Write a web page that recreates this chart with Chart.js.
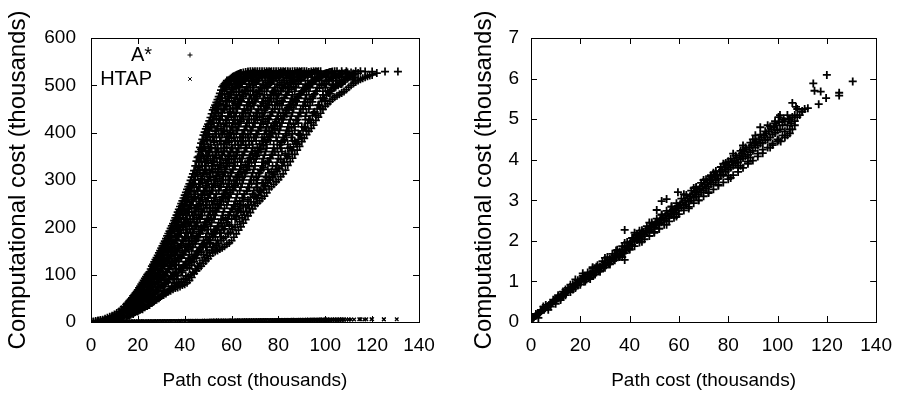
<!DOCTYPE html>
<html>
<head>
<meta charset="utf-8">
<script src="https://cdn.jsdelivr.net/npm/chart.js@4.4.1/dist/chart.umd.min.js"></script>
<style>
  body { margin: 0; background: #fff; }
  .painel { position: absolute; top: 0; width: 452px; height: 396px; }
  #esq { left: 0; }
  #dir { left: 452px; }
</style>
</head>
<body>
<div class="painel" id="esq"><canvas id="graficoEsq" width="452" height="396"></canvas></div>
<div class="painel" id="dir"><canvas id="graficoDir" width="452" height="396"></canvas></div>
<script>
// valores, em milhares
// A*: cada coluna = [path cost, [computational costs]]

const astarColunas = [
  [1,[0,1]],[2,[0,2]],[3,[1,2,3]],[4,[0,2,4]],[5,[1,3,5]],[6,[1,4,7]],[7,[2,5,9]],[8,[2,7,11]],[9,[3,6,10,13]],
  [10,[4,9,12,16]],[11,[4,8,13,19]],[12,[6,11,17,22]],[13,[7,15,21,27]],[14,[9,14,24,32]],[15,[11,19,27,31,37]],
  [16,[13,18,29,35,42]],[17,[16,25,33,44,48]],[18,[17,29,38,47,55]],[19,[21,28,44,53,61]],[20,[22,36,47,58,68]],
  [21,[26,34,52,63,70,76]],[22,[27,45,56,68,79,84]],[23,[31,44,58,74,87,92]],[24,[34,52,63,80,91,100]],[25,[36,50,71,86,97,106]],
  [26,[40,59,73,93,108,118]],[27,[44,57,82,99,112,122,127]],[28,[47,66,85,96,118,129,136]],[29,[50,64,90,110,124,139,146]],
  [30,[55,78,93,117,133,150,156]],[31,[57,75,101,122,140,154,166]],[32,[60,88,105,129,150,163,176]],[33,[64,84,113,131,156,171,187]],
  [34,[66,97,118,141,160,182,198]],[35,[69,92,125,149,170,195,208]],[36,[72,104,129,155,179,201,214,220]],[37,[73,99,136,162,185,205,225,232]],
  [38,[75,112,140,158,193,218,236,244]],[39,[78,108,147,172,200,228,246,256]],[40,[80,121,152,180,207,236,255,268]],
  [41,[83,116,158,189,213,247,266,280]],[42,[88,130,163,196,225,252,278,292]],[43,[94,126,171,203,232,262,289,306]],
  [44,[102,139,176,212,241,275,301,320]],[45,[108,135,183,221,247,285,316,340]],[46,[114,151,191,228,260,291,327,350,360]],
  [47,[118,147,199,237,268,303,338,365,378]],[48,[124,163,204,246,276,314,349,381,395]],[49,[129,158,211,254,288,321,362,393,408]],
  [50,[134,173,219,262,297,335,371,404,418]],[51,[140,168,227,271,305,342,384,417,432]],[52,[146,184,236,278,318,351,392,428,448]],
  [53,[149,180,242,289,324,366,403,440,458]],[54,[151,193,251,296,333,375,414,449,470]],[55,[154,188,258,304,345,382,427,461,483]],
  [56,[157,201,265,312,352,396,435,473,497]],[57,[160,197,272,318,361,402,448,482,503]],[58,[164,210,279,329,369,414,455,492,510]],
  [59,[167,205,286,334,380,421,467,499,512]],[60,[172,218,292,343,388,433,474,504,516]],[61,[179,226,298,350,397,441,485,508,519]],
  [62,[186,222,305,358,405,452,493,512,522]],[63,[194,236,311,367,414,460,499,516,524]],[64,[201,232,318,373,424,468,505,519,526]],
  [65,[209,246,326,381,431,476,509,522,527]],[66,[216,243,333,390,440,483,513,524,528]],[67,[224,258,340,396,447,490,516,527,529]],
  [68,[231,254,348,404,455,496,519,530]],[69,[239,270,355,411,462,501,522,530]],[70,[246,266,362,420,469,506,525,530]],
  [71,[251,281,369,426,476,510,527,530]],[72,[256,277,376,433,482,514,530]],[73,[261,294,383,440,487,517,530]],
  [74,[266,288,390,447,493,520,530]],[75,[273,305,397,453,498,523,530]],[76,[281,300,403,460,502,525,530]],
  [77,[286,318,410,466,507,527,530]],[78,[291,312,416,472,511,530]],[79,[296,330,423,478,515,530]],[80,[301,325,429,483,518,530]],
  [81,[307,343,435,488,521,530]],[82,[313,337,441,493,523,530]],[83,[321,356,447,497,525,530]],[84,[331,350,453,501,527,530]],
  [85,[339,369,459,505,529]],[86,[346,363,465,509,530]],[87,[354,382,470,513,530]],[88,[363,376,476,516,530]],
  [89,[371,395,481,519,530]],[90,[381,389,486,522,530]],[91,[388,411,491,524,530]],[92,[396,405,496,526,530]],
  [93,[403,427,500,528]],[94,[409,421,504,529]],[95,[416,442,508,530]],[96,[426,437,512,530]],[97,[433,458,515,530]],
  [98,[441,452,518,530]],[99,[449,473,521]],[100,[456,467,524]],[101,[461,488,526]],[102,[466,482,528]],[103,[471,500,529]],
  [104,[475,495,530]],[105,[478,510,530]],[106,[481,505]],[107,[484,518,530]],[108,[487,513]],[109,[491,524,530]],[110,[496,520]],
  [111,[500,527]],[112,[504,522]],[113,[507,530]],[114,[510,526]],[115,[513,530]],[116,[515]],[117,[517,529]],[118,[519]],[119,[521]],
  [120,[522,529]],[122,[526]],[125.5,[529]],[131,[529]]
];

const astarMeiasColunas = [
  [15.5,[13,21,26,35,39]],[16.5,[15,23,30,38,45]],[17.5,[18,27,35,42,51]],[18.5,[20,29,38,45,53,58]],[19.5,[23,33,42,51,59,64]],
  [20.5,[25,37,46,55,64,72]],[21.5,[28,39,51,61,71,80]],[22.5,[31,44,56,68,79,88]],[23.5,[34,48,61,74,86,96]],[24.5,[36,50,65,79,93,103]],
  [25.5,[40,55,70,84,95,103,112]],[26.5,[43,59,75,90,104,114,122]],[27.5,[47,63,79,96,110,122,132]],[28.5,[50,67,85,101,118,133,141]],
  [29.5,[53,72,90,108,126,143,151]],[30.5,[57,77,95,112,130,150,161]],[31.5,[61,80,100,118,137,153,171]],[32.5,[64,86,106,124,146,165,182]],
  [33.5,[69,90,112,131,153,173,192]],[34.5,[74,96,117,139,160,182,203]],[35.5,[77,100,121,146,168,191,214]],
  [36.5,[82,104,128,151,174,198,216,226]],[37.5,[84,110,134,156,182,205,228,238]],[38.5,[86,113,137,162,188,211,233,250]],
  [39.5,[90,116,142,170,195,220,244,262]],[40.5,[92,122,149,176,202,230,256,274]],[41.5,[96,127,154,180,210,238,266,286]],
  [42.5,[100,130,160,190,217,247,276,299]],[43.5,[105,135,165,196,225,258,290,313]],[44.5,[112,140,170,203,234,265,300,330]],
  [45.5,[118,148,178,210,244,277,311,348]],[46.5,[124,154,186,218,250,285,320,350,369]],[47.5,[130,160,193,225,258,295,330,364,386]],
  [48.5,[136,168,199,233,267,301,340,376,401]],[49.5,[140,173,206,241,275,312,350,386,413]],[50.5,[146,180,214,248,284,320,358,396,425]],
  [51.5,[152,186,219,256,292,330,368,410,440]],[52.5,[158,192,226,262,301,340,380,420,453]],[53.5,[162,196,234,270,310,348,390,430,464]],
  [54.5,[166,202,240,278,318,358,398,440,476]],[55.5,[172,208,248,286,326,366,408,450,490]],[56.5,[176,215,254,292,334,376,418,460,500]],
  [57.5,[180,220,260,300,342,384,426,468,506]],[58.5,[186,226,266,308,350,392,434,476,510]],[59.5,[190,232,274,316,358,400,444,484,514]],
  [60.5,[195,238,280,322,366,410,452,492,518]],[61.5,[200,244,288,330,374,418,462,498,520]],[62.5,[206,250,292,338,382,426,470,504,523]],
  [63.5,[212,256,300,346,390,434,478,508,525]],[64.5,[220,262,306,352,398,442,485,512]],[65.5,[226,270,314,360,406,450,490,516]],
  [66.5,[234,276,320,368,414,458,497,520]],[67.5,[240,284,328,374,420,464,502,522]],[68.5,[248,292,336,382,428,472,508,525]],
  [69.5,[254,300,344,390,436,478,512,527]],[70.5,[262,306,350,396,442,484,516]],[71.5,[268,314,358,404,448,490,520]],
  [72.5,[274,320,364,410,456,496,522]],[73.5,[280,326,372,418,462,500,524]],[74.5,[286,334,380,424,468,506,526]],
  [75.5,[294,340,386,430,474,510,527]],[76.5,[300,346,392,436,480,514,528]],[77.5,[305,354,400,444,486,518]],
  [78.5,[312,360,408,450,490,520]],[79.5,[318,366,414,458,496,524]],[80.5,[324,374,420,462,500,526]],[81.5,[330,380,428,468,506,527]],
  [82.5,[338,386,434,474,510,528]],[83.5,[346,394,440,480,514]],[84.5,[354,402,448,486,518]],[85.5,[362,410,454,492,521]],
  [86.5,[370,418,460,498,524]],[87.5,[378,426,468,504,526]],[88.5,[386,434,474,508,527]],[89.5,[396,442,482,512,528]],
  [90.5,[404,450,488,516]],[91.5,[412,456,494,520]],[92.5,[420,464,500,522]],[93.5,[428,470,504,524]],[94.5,[436,476,508,526]],
  [95.5,[444,482,512,527]],[96.5,[450,488,516,528]],[97.5,[458,494,520]],[98.5,[466,500,522]],[99.5,[472,504,524]],
  [100.5,[478,508,526]],[101.5,[484,512,527]],[102.5,[490,515,528]],[103.5,[494,518]],[104.5,[497,520]],[105.5,[500,522]],
  [106.5,[503,524]],[107.5,[506,525]],[108.5,[510,526]],[109.5,[514,527]],[110.5,[518]],[111.5,[512,520]],[112.5,[516,524]]
];

// A*: miolo denso, cada linha = [computational cost, [path costs]]
const astarLinhas = [
  [15,[12.5]],[30,[15,18]],[45,[18,21.5]],[60,[20.5,23.5,27]],[75,[22.5,25.5,28.5,31.5,34.5]],
  [90,[24,27,30,33,36.5]],[105,[26,29,32,35,38.5]],[120,[27.5,30.5,33.5,36.5,39.5,43]],[135,[29.5,32.5,35.5,38.5,41.5,45]],
  [150,[31,34,37,40,43,46,49.5]],[165,[32.5,35.5,38.5,41.5,44.5,47.5,50.5,53.5]],[180,[34,37,40,43,46,49,52,55.5]],
  [195,[35,38,41,44,47,50,53,56.5]],[210,[36.5,39.5,42.5,45.5,48.5,51.5,54.5,58]],[225,[38,41,44,47,50,53,56,59,62]],
  [240,[39,42,45,48,51,54,57,60,63.5]],[255,[40.5,43.5,46.5,49.5,52.5,55.5,58.5,61.5,65]],
  [270,[41.5,44.5,47.5,50.5,53.5,56.5,59.5,62.5,65.5,69]],[285,[43,46,49,52,55,58,61,64,67,71]],
  [300,[44,47,50,53,56,59,62,65,68,71,74.5]],[315,[45,48,51,54,57,60,63,66,69,72,76]],[330,[46,49,52,55,58,61,64,67,70,73,77.5]],
  [345,[46.5,49.5,52.5,55.5,58.5,61.5,64.5,67.5,70.5,73.5,76.5,80]],[360,[47.5,50.5,53.5,56.5,59.5,62.5,65.5,68.5,71.5,74.5,77.5,81.5]],
  [375,[48,51,54,57,60,63,66,69,72,75,78,81,84]],[390,[49,52,55,58,61,64,67,70,73,76,79,82,85.5]],
  [405,[50.5,53.5,56.5,59.5,62.5,65.5,68.5,71.5,74.5,77.5,80.5,83.5,87]],[420,[51.5,54.5,57.5,60.5,63.5,66.5,69.5,72.5,75.5,78.5,81.5,84.5,88.5]],
  [435,[52.5,55.5,58.5,61.5,64.5,67.5,70.5,73.5,76.5,79.5,82.5,85.5,88.5,91.5]],[450,[53.5,56.5,59.5,62.5,65.5,68.5,71.5,74.5,77.5,80.5,83.5,86.5,89.5,93]],
  [465,[55,58,61,64,67,70,73,76,79,82,85,88,91,94.5]],[480,[56,59,62,65,68,71,74,77,80,83,86,89,92,95,99]],
  [495,[57.5,60.5,63.5,66.5,69.5,72.5,75.5,78.5,81.5,84.5,87.5,90.5,93.5,96.5,100,103.5]],
  [510,[59.5,62.5,65.5,68.5,71.5,74.5,77.5,80.5,83.5,86.5,89.5,92.5,95.5,98.5,101.5,104.5,108]],
  [525,[64,67,70,73,76,79,82,85,88,91,94,97,100,103,106,109,112]]
];

const astarEntreLinhas = [
  [22.5,[14]],[37.5,[16.5,20]],[52.5,[19,22.5,25.5]],[67.5,[21.5,24.5,27.5,31]],[82.5,[23,26,29,32,35.5]],
  [97.5,[25,28,31,34,37,40.5]],[112.5,[27,30,33,36,39,42]],[127.5,[28.5,31.5,34.5,37.5,40.5,44]],
  [142.5,[30,33,36,39,42,45,48]],[157.5,[31.5,34.5,37.5,40.5,43.5,46.5,49.5,52]],[172.5,[33,36,39,42,45,48,51,54]],
  [187.5,[34.5,37.5,40.5,43.5,46.5,49.5,52.5,55.5,58.5]],[202.5,[36,39,42,45,48,51,54,57,60]],
  [217.5,[37.5,40.5,43.5,46.5,49.5,52.5,55.5,58.5,61.5]],[232.5,[38.5,41.5,44.5,47.5,50.5,53.5,56.5,59.5,62.5,65]],
  [247.5,[40,43,46,49,52,55,58,61,64,67]],[262.5,[41,44,47,50,53,56,59,62,65,68,71]],
  [277.5,[42.5,45.5,48.5,51.5,54.5,57.5,60.5,63.5,66.5,69.5,72.5]],[292.5,[43.5,46.5,49.5,52.5,55.5,58.5,61.5,64.5,67.5,70.5,73.5]],
  [307.5,[44.5,47.5,50.5,53.5,56.5,59.5,62.5,65.5,68.5,71.5,74.5,77.5]],[322.5,[45.5,48.5,51.5,54.5,57.5,60.5,63.5,66.5,69.5,72.5,75.5,79]],
  [337.5,[46,49,52,55,58,61,64,67,70,73,76,79.5]],[352.5,[47,50,53,56,59,62,65,68,71,74,77,80,83]],
  [367.5,[48,51,54,57,60,63,66,69,72,75,78,81,84]],[382.5,[49.5,52.5,55.5,58.5,61.5,64.5,67.5,70.5,73.5,76.5,79.5,82.5,86]],
  [397.5,[50,53,56,59,62,65,68,71,74,77,80,83,86,88.5]],[412.5,[51,54,57,60,63,66,69,72,75,78,81,84,87,90]],
  [427.5,[52,55,58,61,64,67,70,73,76,79,82,85,88,91.5]],[442.5,[53,56,59,62,65,68,71,74,77,80,83,86,89,92,95]],
  [457.5,[54.5,57.5,60.5,63.5,66.5,69.5,72.5,75.5,78.5,81.5,84.5,87.5,90.5,93.5,97]],
  [472.5,[55.5,58.5,61.5,64.5,67.5,70.5,73.5,76.5,79.5,82.5,85.5,88.5,91.5,94.5,98]],
  [487.5,[57,60,63,66,69,72,75,78,81,84,87,90,93,96,99,102]],
  [502.5,[58.5,61.5,64.5,67.5,70.5,73.5,76.5,79.5,82.5,85.5,88.5,91.5,94.5,97.5,100.5,103.5,107]],
  [517.5,[61,64,67,70,73,76,79,82,85,88,91,94,97,100,103,106,109,112]]
];

// HTAP: pares [path cost, computational cost]
const htapBaixo = [
  [0.3,0.08],[0.8,0.1],[1.2,0.12],[1.8,0.15],[2.2,0.16],[2.8,0.2],[3.3,0.22],[3.8,0.24],[4.2,0.27],[4.8,0.3],[5.3,0.3],[5.8,0.34],[6.2,0.37],[6.8,0.38],[7.3,0.42],[7.8,0.44],[8.2,0.47],[8.8,0.48],[9.3,0.52],[9.8,0.52],
  [10.3,0.55],[10.8,0.58],[11.3,0.6],[11.8,0.62],[12.3,0.65],[12.8,0.66],[13.3,0.7],[13.8,0.71],[14.3,0.74],[14.8,0.75],[15.3,0.8],[15.8,0.8],[16.3,0.84],[16.8,0.85],[17.3,0.88],[17.8,0.9],[18.3,0.94],[18.8,0.95],[19.3,0.98],[19.8,1.0],
  [5,0.38],[8,0.38],[12,0.58],[14,0.8],[17,0.8],[18,1.05],[19,0.9],[16,0.92],[11,0.66],[13,0.62],
  [20.5,1.03],[21,1.08],[21.5,1.0],[22,1.12],[22.5,1.05],[23,1.16],[23.5,1.1],[24,1.2],[24.5,1.14],[25,1.25],[25.5,1.18],[26,1.28],[26.5,1.22],[27,1.33],[27.5,1.27],[28,1.37],[28.5,1.32],[29,1.42],[29.5,1.36],[30,1.47],
  [30.5,1.4],[31,1.52],[31.5,1.45],[32,1.55],[32.5,1.5],[33,1.6],[33.5,1.55],[34,1.65],[34.5,1.58],[35,1.7],[35.5,1.62],[36,1.74],[36.5,1.68],[37,1.79],[37.5,1.72],[38,1.84],[38.5,1.76],[39,1.88],[39.5,1.82],[40,1.93],
  [21,1.2],[24,1.06],[26.5,1.36],[28,1.24],[30,1.58],[32,1.42],[34.5,1.76],[36,1.6],[38,1.95],[40,1.8],[37,1.6],[25,1.35],[21.4,1.11]
];

const htapMeio = [
  [40.5,1.98],[41,1.9],[41.5,2.05],[42,1.98],[42.5,2.08],[43,2.02],[43.5,2.12],[44,2.06],[44.5,2.17],[45,2.1],[45.5,2.22],[46,2.15],[46.5,2.25],[47,2.2],[47.5,2.3],[48,2.24],[48.5,2.35],[49,2.28],[49.5,2.4],[50,2.33],
  [50.5,2.44],[51,2.38],[51.5,2.48],[52,2.42],[52.5,2.53],[53,2.46],[53.5,2.58],[54,2.51],[54.5,2.62],[55,2.55],[55.5,2.67],[56,2.6],[56.5,2.72],[57,2.64],[57.5,2.76],[58,2.69],[58.5,2.8],[59,2.74],[59.5,2.86],[60,2.8],
  [42,2.2],[45,1.98],[48,2.45],[50,2.2],[53,2.65],[55,2.4],[57,2.85],[59,2.6],[44,2.25],[52,2.3],[51,2.76],[53,2.98],[55,3.03],[38,2.27],[38,1.53],[59.6,3.2],
  [60.5,2.9],[61,2.82],[61.5,2.95],[62,2.87],[62.5,3.0],[63,2.9],[63.5,3.05],[64,2.96],[64.5,3.1],[65,3.0],[65.5,3.15],[66,3.06],[66.5,3.2],[67,3.1],[67.5,3.26],[68,3.15],[68.5,3.3],[69,3.2],[69.5,3.35],[70,3.25],
  [70.5,3.4],[71,3.3],[71.5,3.45],[72,3.34],[72.5,3.5],[73,3.4],[73.5,3.55],[74,3.44],[74.5,3.6],[75,3.5],[75.5,3.64],[76,3.54],[76.5,3.7],[77,3.6],[77.5,3.75],[78,3.64],[78.5,3.8],[79,3.7],[79.5,3.86],[80,3.75],
  [62,3.15],[64,2.8],[66,3.3],[68,3.0],[70,3.5],[72,3.2],[74,3.68],[76,3.38],[78,3.9],[80,3.6],[73,3.58],[67,3.3],[80,3.96],[81,3.55]
];

const htapAlto = [
  [80.5,3.88],[81,3.8],[81.5,3.95],[82,3.85],[82.5,3.98],[83,3.9],[83.5,4.05],[84,3.94],[84.5,4.1],[85,4.0],[85.5,4.15],[86,4.04],[86.5,4.2],[87,4.08],[87.5,4.25],[88,4.12],[88.5,4.3],[89,4.18],[89.5,4.35],[90,4.22],
  [90.5,4.4],[91,4.3],[91.5,4.45],[92,4.35],[92.5,4.5],[93,4.4],[93.5,4.55],[94,4.42],[94.5,4.6],[95,4.48],[95.5,4.65],[96,4.5],[96.5,4.7],[97,4.55],[97.5,4.75],[98,4.62],[98.5,4.8],[99,4.66],[99.5,4.85],[100,4.72],
  [82,4.15],[84,3.8],[86,4.35],[88,3.95],[90,4.5],[92,4.15],[93,4.8],[94,4.25],[96,4.85],[98,4.4],[99,4.95],[100,4.5],[97,4.3],[91,4.6],[89,4.05],[86,4.25],[85,3.85],
  [101,4.75],[102,4.85],[102,4.6],[103,4.95],[103,4.7],[104,4.85],[104,4.6],[105,5.0],[105.5,4.9],[106,5.05],[107,5.1],[108,5.05],[109,5.1],[110,5.2],[111,5.25],[106,4.75],[102.5,5.0],[107,4.95],
  [106,5.4],[107.5,5.3],[100.4,5.05],[104.5,5.0],[100.5,4.48],[105,4.75],[110,5.18],[112.3,5.27],[114.5,5.88],[115,5.7],[117.5,5.68],[120,6.09],[119.7,5.52],[116.7,5.37],[125,5.65],[125,5.58],[130.5,5.93],
  [101.3,4.45],[100.7,4.93],[101,5.1],[98.6,4.8]
];

// pontos nas bordas da faixa do HTAP
const htapBordas = [
  [2,0.2],[3,0.1],[4,0.3],[6,0.42],[7,0.3],[9,0.55],[10,0.45],[11,0.62],[12,0.54],[13,0.75],[14,0.66],[15,0.84],[16,0.74],[17,0.93],[18,0.84],[19,1.03],[20,0.92],
  [21,1.14],[22,1.0],[23,1.22],[24,1.1],[25,1.32],[26,1.17],[27,1.4],[28,1.27],[29,1.5],[30,1.34],[31,1.6],[32,1.44],[33,1.68],[34,1.52],[35,1.78],[36,1.62],[37,1.87],[38,1.7],[39,1.97],[40,1.78],
  [41,2.07],[42,1.87],[43,2.16],[44,1.96],[45,2.26],[46,2.04],[47,2.36],[48,2.12],[49,2.45],[50,2.22],[51,2.55],[52,2.3],[53,2.64],[54,2.4],[55,2.74],[56,2.48],[57,2.84],[58,2.57],[59,2.93],[60,2.66],
  [61,3.04],[62,2.75],[63,3.13],[64,2.84],[65,3.24],[66,2.93],[67,3.33],[68,3.0],[69,3.43],[70,3.1],[71,3.52],[72,3.18],[73,3.62],[74,3.27],[75,3.72],[76,3.36],[77,3.82],[78,3.44],[79,3.92],[80,3.52],
  [81,4.02],[82,3.62],[83,4.1],[84,3.7],[85,4.22],[86,3.8],[87,4.3],[88,3.9],[89,4.42],[90,3.98],[91,4.5],[92,4.08],[93,4.62],[94,4.16],[95,4.7],[96,4.3],[97,4.82],[98,4.36],[99,4.9],[100,4.45],
  [102,4.95],[103,4.55],[104,5.1],[105,4.65],[107,4.85],[108,5.25]
];

const rotulos = ['A*', 'HTAP'];
const eixoX = 'Path cost (thousands)';
const eixoY = 'Computational cost (thousands)';

function deColunas(colunas) {
  const pts = [];
  colunas.forEach(c => c[1].forEach(y => pts.push({ x: c[0], y: y })));
  return pts;
}

function deLinhas(linhas) {
  const pts = [];
  linhas.forEach(l => l[1].forEach(x => pts.push({ x: x, y: l[0] })));
  return pts;
}

function dePares(lista) {
  return lista.map(p => ({ x: p[0], y: p[1] }));
}

const astar = [
  ...deColunas(astarColunas), ...deColunas(astarMeiasColunas),
  ...deLinhas(astarLinhas), ...deLinhas(astarEntreLinhas)
];
const htap = dePares([...htapBaixo, ...htapMeio, ...htapAlto, ...htapBordas]);

const fonte = "'Liberation Sans', Arial, sans-serif";
const corPonto = '#000';

// moldura e tracos de escala para dentro (estilo gnuplot)
const moldura = {
  id: 'moldura',
  afterDraw(chart) {
    const ctx = chart.ctx;
    const a = chart.chartArea;
    const sx = chart.scales.x;
    const sy = chart.scales.y;
    ctx.save();
    ctx.strokeStyle = '#000';
    ctx.lineWidth = 1;
    ctx.beginPath();
    sx.ticks.forEach(t => {
      const px = Math.round(sx.getPixelForValue(t.value)) + 0.5;
      ctx.moveTo(px, a.bottom); ctx.lineTo(px, a.bottom - 6);
      ctx.moveTo(px, a.top); ctx.lineTo(px, a.top + 6);
    });
    sy.ticks.forEach(t => {
      const py = Math.round(sy.getPixelForValue(t.value)) + 0.5;
      ctx.moveTo(a.left, py); ctx.lineTo(a.left + 6, py);
      ctx.moveTo(a.right, py); ctx.lineTo(a.right - 6, py);
    });
    ctx.stroke();
    ctx.strokeRect(Math.round(a.left) + 0.5, Math.round(a.top) + 0.5,
      Math.round(a.right - a.left), Math.round(a.bottom - a.top));
    ctx.restore();
  }
};

// legenda dentro do grafico: texto alinhado a direita, marcador ao lado
const legendaDentro = {
  id: 'legendaDentro',
  afterDraw(chart) {
    const ctx = chart.ctx;
    ctx.save();
    ctx.font = "20px " + fonte;
    ctx.fillStyle = '#000';
    ctx.textAlign = 'right';
    ctx.textBaseline = 'middle';
    chart.data.datasets.forEach((ds, i) => {
      const y = 55 + i * 24;
      ctx.fillText(ds.label, 152, y);
      Chart.helpers.drawPoint(ctx, {
        pointStyle: ds.pointStyle, radius: 2.5, borderWidth: 1, rotation: 0
      }, 190, y);
    });
    ctx.restore();
  }
};

function opcoes(yMax, passoY, largY, dirPad, tituloPad, ticksPad) {
  return {
    responsive: false,
    animation: false,
    layout: { padding: { top: 38, right: dirPad, left: 0, bottom: 0 } },
    plugins: { legend: { display: false }, tooltip: { enabled: false } },
    scales: {
      x: {
        type: 'linear', min: 0, max: 140,
        afterFit: s => { s.height = 74; },
        grid: { display: false, drawTicks: false },
        border: { display: false },
        ticks: { stepSize: 20, color: '#000', padding: 12, font: { family: fonte, size: 19 } },
        title: { display: true, text: eixoX, color: '#000', padding: { top: 0, bottom: 4 }, font: { family: fonte, size: 19 } }
      },
      y: {
        type: 'linear', min: 0, max: yMax,
        afterFit: s => { s.width = largY; },
        grid: { display: false, drawTicks: false },
        border: { display: false },
        ticks: { stepSize: passoY, color: '#000', padding: ticksPad, font: { family: fonte, size: 19 } },
        title: { display: true, text: eixoY, color: '#000', padding: { top: tituloPad, bottom: 0 }, font: { family: fonte, size: 24 } }
      }
    }
  };
}

new Chart(document.getElementById('graficoEsq'), {
  type: 'scatter',
  data: {
    datasets: [
      { label: rotulos[0], data: astar, pointStyle: 'cross', pointRadius: 4, borderColor: corPonto, backgroundColor: corPonto, borderWidth: 1.7 },
      { label: rotulos[1], data: htap, pointStyle: 'crossRot', pointRadius: 2.5, borderColor: corPonto, backgroundColor: corPonto, borderWidth: 1.3 }
    ]
  },
  options: opcoes(600, 100, 91, 33, 4, 15),
  plugins: [moldura, legendaDentro]
});

new Chart(document.getElementById('graficoDir'), {
  type: 'scatter',
  data: {
    datasets: [
      { label: rotulos[1], data: htap, pointStyle: 'cross', pointRadius: 4, borderColor: corPonto, backgroundColor: corPonto, borderWidth: 1.8 }
    ]
  },
  options: opcoes(7, 1, 79, 19, 18, 12),
  plugins: [moldura]
});
</script>
</body>
</html>
